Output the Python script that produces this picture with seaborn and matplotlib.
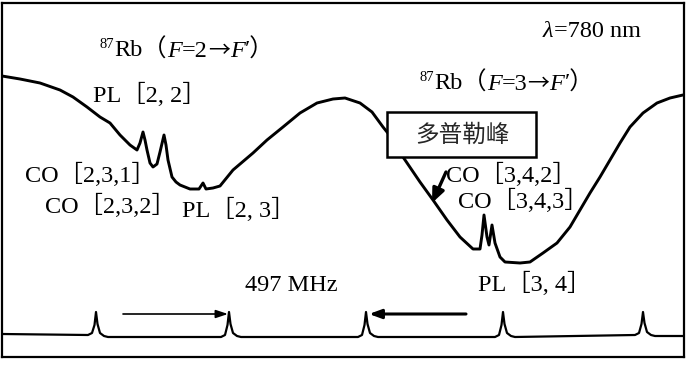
import matplotlib
matplotlib.use("Agg")
import matplotlib.pyplot as plt
import seaborn as sns
import pandas as pd
from matplotlib.patches import Rectangle

# ---------------- data ----------------
# Saturated-absorption trace: scan position vs. absorption depth (plotted with inverted y)
SCAN_X = [2, 20, 40, 60, 73, 87, 100, 110, 120, 130, 137, 140, 143, 145, 147, 150, 153,
          157, 160, 164, 166, 168, 172, 176, 180, 190, 199, 203, 206, 213, 220, 233,
          253, 267, 283, 300, 317, 333, 345, 360, 372, 383, 395, 403, 420, 433, 447,
          460, 473, 480, 482, 484, 487, 489, 492, 495, 500, 505, 520, 530, 543, 557,
          570, 580, 590, 600, 610, 620, 630, 643, 657, 670, 683]
SCAN_Y = [76, 79, 83, 90, 97, 107, 117, 123, 135, 145, 150, 143, 132, 140, 150, 163, 167,
          164, 152, 135, 145, 160, 177, 182, 185, 189, 189, 183, 189, 188, 186, 170,
          153, 140, 127, 113, 103, 99, 98, 103, 112, 127, 142, 157, 182, 200, 220,
          237, 249, 249, 235, 215, 237, 245, 225, 243, 257, 262, 263, 262, 253, 243,
          227, 210, 193, 177, 160, 143, 127, 113, 103, 98, 95]

# Fabry-Perot reference trace
FP_X = [2, 88, 92, 94.5, 96, 97.5, 100, 104, 108,
        221, 225, 227.5, 229, 230.5, 233, 237, 241,
        358, 362, 364.5, 366, 367.5, 370, 374, 378,
        495, 499, 501.5, 503, 504.5, 507, 511, 515,
        635, 639, 641.5, 643, 644.5, 647, 651, 655, 684]
FP_Y = [334, 335, 333, 325, 312, 324, 333, 336, 337,
        337, 335, 325, 312, 324, 333, 336, 337,
        337, 335, 325, 312, 324, 333, 336, 337,
        337, 335, 325, 312, 324, 333, 336, 337,
        335, 333, 324, 312, 323, 332, 335, 336, 336]

# labels: (segments, left x, baseline y)
LABELS = [
    ([("87", "sup"), ("Rb（", "rm"), ("F", "it"), ("=2", "rm"), ("→", "cjk"), ("F", "it"), ("′）", "rm")], 100, 57),
    ([("PL［2, 2］", "rm")], 93, 102),
    ([("CO［2,3,1］", "rm")], 25, 182),
    ([("CO［2,3,2］", "rm")], 45, 213),
    ([("PL［2, 3］", "rm")], 182, 217),
    ([("λ", "it"), ("=780 nm", "rm")], 543, 37),
    ([("87", "sup"), ("Rb（", "rm"), ("F", "it"), ("=3", "rm"), ("→", "cjk"), ("F", "it"), ("′）", "rm")], 420, 90),
    ([("CO［3,4,2］", "rm")], 446, 182),
    ([("CO［3,4,3］", "rm")], 458, 208),
    ([("497 MHz", "rm")], 245, 291),
    ([("PL［3, 4］", "rm")], 478, 291),
]
DOPPLER_TEXT = "多普勒峰"

# ---------------- style ----------------
sns.set_theme(style="white")
SERIF = ["Liberation Serif", "Noto Sans CJK SC", "DejaVu Serif"]
CJK = ["Noto Sans CJK SC", "DejaVu Sans"]
plt.rcParams["font.family"] = SERIF
FS = 17.5

fig = plt.figure(figsize=(6.91, 3.65), dpi=100)
ax = fig.add_axes([2 / 691, 8 / 365, 682 / 691, 354 / 365])
ax.set_facecolor("white")

scan = pd.DataFrame({"x": SCAN_X, "y": SCAN_Y})
fp = pd.DataFrame({"x": FP_X, "y": FP_Y})
sns.lineplot(data=scan, x="x", y="y", ax=ax, color="black", lw=2.1,
             estimator=None, sort=False, zorder=2)
sns.lineplot(data=fp, x="x", y="y", ax=ax, color="black", lw=1.6,
             estimator=None, sort=False, zorder=2)

ax.set_xlim(2, 684)
ax.set_ylim(357, 3)
ax.set_xticks([])
ax.set_yticks([])
ax.set_xlabel("")
ax.set_ylabel("")
for sp in ax.spines.values():
    sp.set_visible(True)
    sp.set_color("black")
    sp.set_linewidth(1.6)


def rich(segs, x, y):
    prev = None
    for s, kind in segs:
        kw = dict(fontsize=FS, family=SERIF, va="baseline", ha="left",
                  color="black", zorder=5, annotation_clip=False)
        dy = 0
        if kind == "sup":
            kw["fontsize"] = FS * 0.6
            dy = FS * 0.38
        if kind == "it":
            kw["style"] = "italic"
        if kind == "cjk":
            kw["family"] = CJK
            kw["fontsize"] = FS * 0.9
        if prev is None:
            t = ax.annotate(s, xy=(x, y), xycoords="data", xytext=(0, dy),
                            textcoords="offset points", **kw)
        else:
            t = ax.annotate(s, xy=(1, y), xycoords=(prev, "data"), xytext=(0, dy),
                            textcoords="offset points", **kw)
        prev = t


for segs, x, y in LABELS:
    rich(segs, x, y)

# Doppler-peak box
ax.add_patch(Rectangle((387, 112), 149, 45, facecolor="white", edgecolor="black",
                       lw=1.8, zorder=4))
ax.text(462, 135, DOPPLER_TEXT, family=CJK, fontsize=17, ha="center", va="center",
        zorder=5)

# arrows
ax.annotate("", xy=(432, 203), xytext=(446, 172),
            arrowprops=dict(arrowstyle="-|>,head_length=0.7,head_width=0.3",
                            color="black", lw=2.4, shrinkA=0, shrinkB=0), zorder=5)
ax.annotate("", xy=(228, 314), xytext=(123, 314),
            arrowprops=dict(arrowstyle="-|>,head_length=0.6,head_width=0.2",
                            color="black", lw=1.2, shrinkA=0, shrinkB=0), zorder=5)
ax.annotate("", xy=(369, 314), xytext=(466, 314),
            arrowprops=dict(arrowstyle="-|>,head_length=0.6,head_width=0.22",
                            color="black", lw=2.2, shrinkA=0, shrinkB=0), zorder=5)

fig.savefig("out.png", dpi=100, facecolor="white")
